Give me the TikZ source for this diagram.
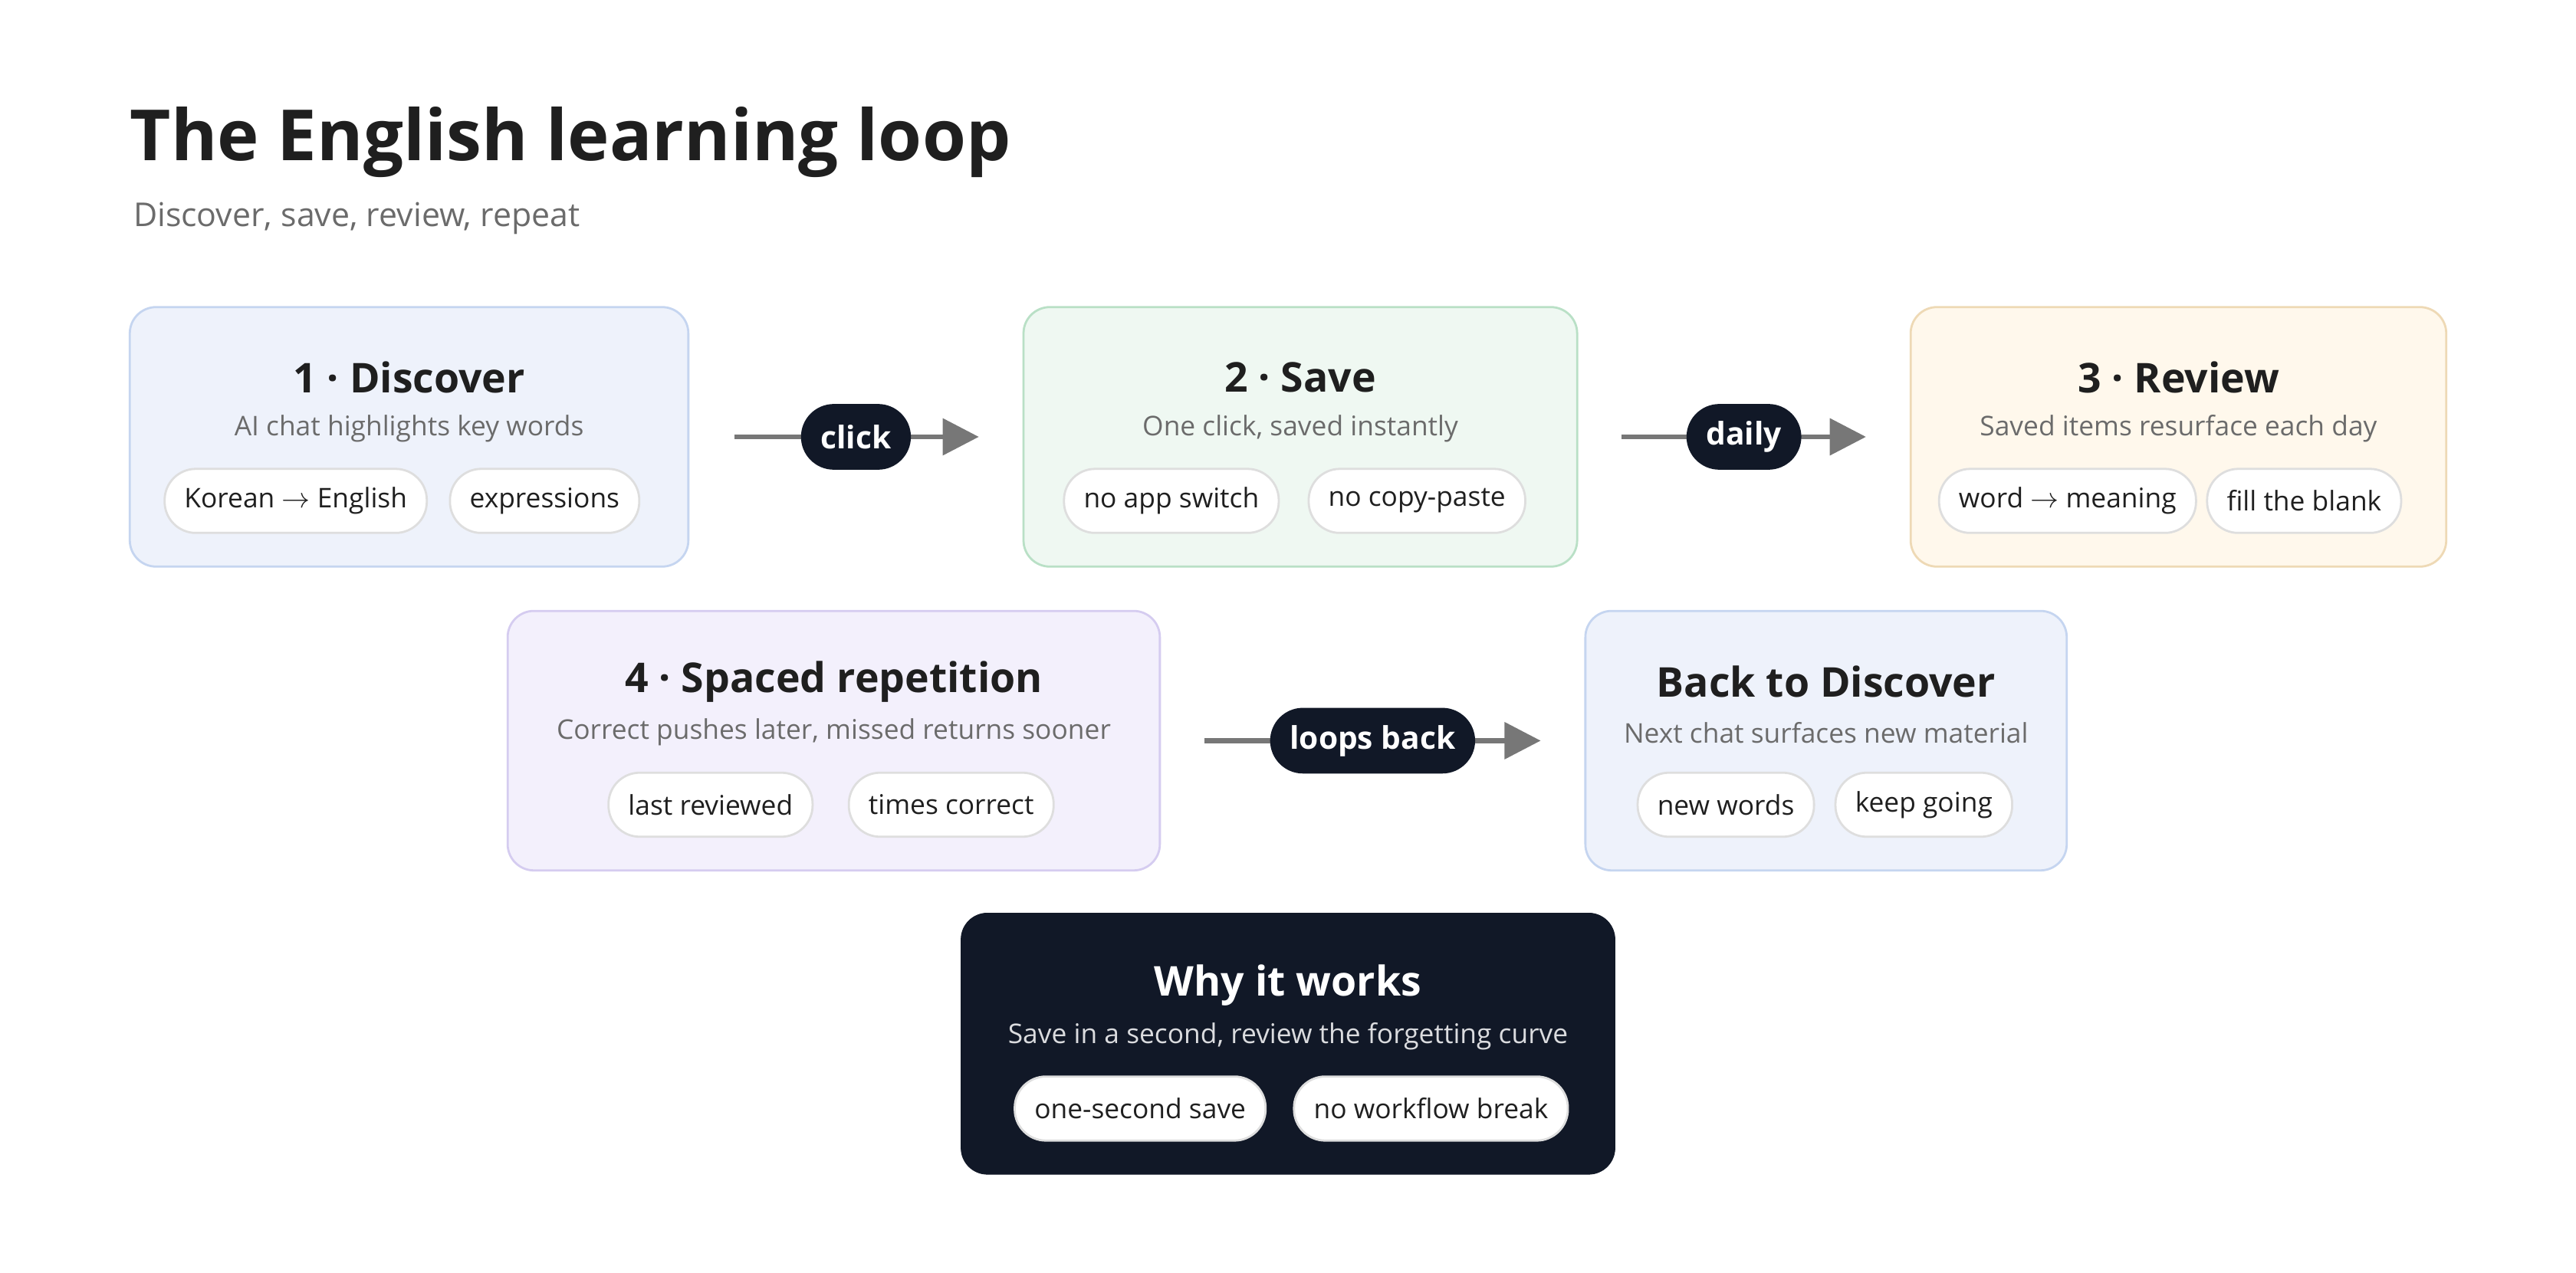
\documentclass[tikz,border=0pt]{standalone}
\usepackage{fontspec}
\setmainfont{Open Sans}
\usetikzlibrary{arrows.meta}
\definecolor{ink}{HTML}{1F1F1F}
\definecolor{sub}{HTML}{6B6B6B}
\definecolor{navy}{HTML}{111827}
\definecolor{bF}{HTML}{EEF2FB}\definecolor{bD}{HTML}{C5D5F0}
\definecolor{gF}{HTML}{EFF8F2}\definecolor{gD}{HTML}{B9E0C6}
\definecolor{oF}{HTML}{FFF8EC}\definecolor{oD}{HTML}{EED9B5}
\definecolor{pF}{HTML}{F3F0FC}\definecolor{pD}{HTML}{D5CCF0}
\definecolor{arr}{HTML}{777777}
\begin{document}
\begin{tikzpicture}[x=1pt,y=-1pt,
 card/.style={draw=#1,line width=1.3pt,rounded corners=16pt},
 ttl/.style={font=\fontsize{25}{30}\selectfont\bfseries,text=ink},
 st/.style={font=\fontsize{16.5}{20}\selectfont,text=sub},
 pill/.style={draw=black!13,line width=1.3pt,fill=white,rounded corners=19pt,minimum height=39pt,inner xsep=12pt,font=\fontsize{16.5}{20}\selectfont,text=ink},
 lab/.style={fill=navy,text=white,rounded corners=20pt,minimum height=40pt,inner xsep=12pt,font=\fontsize{19}{22}\selectfont\bfseries},
 con/.style={draw=arr,line width=3pt,-{Triangle[length=22pt,width=22pt]}}]
\useasboundingbox (0,0) rectangle (1568,775);
\fill[white] (0,0) rectangle (1568,775);
\node[anchor=base west,inner sep=0,font=\fontsize{43}{50}\selectfont\bfseries,text=ink] (title) at (79,98) {The English learning loop};
\node[anchor=base west,inner sep=0,font=\fontsize{20}{24}\selectfont,text=sub] (stitle) at (81,138) {Discover, save, review, repeat};
% cards
\filldraw[card=bD,fill=bF] (79,187) rectangle (419,345);
\coordinate (c1) at (249,266);
\node[draw=none,minimum width=340pt,minimum height=158pt] (n1) at (249,266) {};
\filldraw[card=gD,fill=gF] (623,187) rectangle (960,345);
\node[minimum width=337pt,minimum height=158pt] (n2) at (791.5,266) {};
\filldraw[card=oD,fill=oF] (1163,187) rectangle (1489,345);
\node[minimum width=326pt,minimum height=158pt] (n3) at (1326,266) {};
\filldraw[card=pD,fill=pF] (309,372) rectangle (706,530);
\node[minimum width=397pt,minimum height=158pt] (n4) at (507.5,451) {};
\filldraw[card=bD,fill=bF] (965,372) rectangle (1258,530);
\node[minimum width=293pt,minimum height=158pt] (n5) at (1111.5,451) {};
\filldraw[fill=navy,draw=navy,rounded corners=16pt] (585,556) rectangle (983,715);
\node[minimum width=398pt,minimum height=159pt] (n6) at (784,635.5) {};
% card 1
\node[ttl] (t1) at (249,230) {1 · Discover};
\node[st] (s1) at (249,261) {AI chat highlights key words};
\node[pill] (p11) at (180,305) {Korean $\rightarrow$ English};
\node[pill] (p12) at (331.5,305) {expressions};
% card 2
\node[ttl] (t2) at (791.5,230) {2 · Save};
\node[st] (s2) at (791.5,261) {One click, saved instantly};
\node[pill] (p21) at (713,305) {no app switch};
\node[pill] (p22) at (862.5,305) {no copy-paste};
% card 3
\node[ttl] (t3) at (1326,230) {3 · Review};
\node[st] (s3) at (1326,261) {Saved items resurface each day};
\node[pill] (p31) at (1258.5,305) {word $\rightarrow$ meaning};
\node[pill] (p32) at (1402.5,305) {fill the blank};
% card 4
\node[ttl] (t4) at (507.5,415) {4 · Spaced repetition};
\node[st] (s4) at (507.5,446) {Correct pushes later, missed returns sooner};
\node[pill] (p41) at (432.5,490) {last reviewed};
\node[pill] (p42) at (579,490) {times correct};
% back
\node[ttl] (t5) at (1111.5,415) {Back to Discover};
\node[st] (s5) at (1111.5,446) {Next chat surfaces new material};
\node[pill] (p51) at (1050.5,490) {new words};
\node[pill] (p52) at (1171,490) {keep going};
% why
\node[ttl,text=white] (t6) at (784,600) {Why it works};
\node[st,text=white!85!navy] (s6) at (784,631) {Save in a second, review the forgetting curve};
\node[pill] (p61) at (694,675) {one-second save};
\node[pill] (p62) at (871,675) {no workflow break};
% connectors
\draw[con,shorten <=28pt,shorten >=27pt] (n1.east) -- node[lab] (l1) {click} (n2.west);
\draw[con,shorten <=27pt,shorten >=27pt] (n2.east) -- node[lab] (l2) {daily} (n3.west);
\draw[con,shorten <=27pt,shorten >=27pt] (n4.east) -- node[lab] (l3) {loops back} (n5.west);
\end{tikzpicture}
\end{document}
